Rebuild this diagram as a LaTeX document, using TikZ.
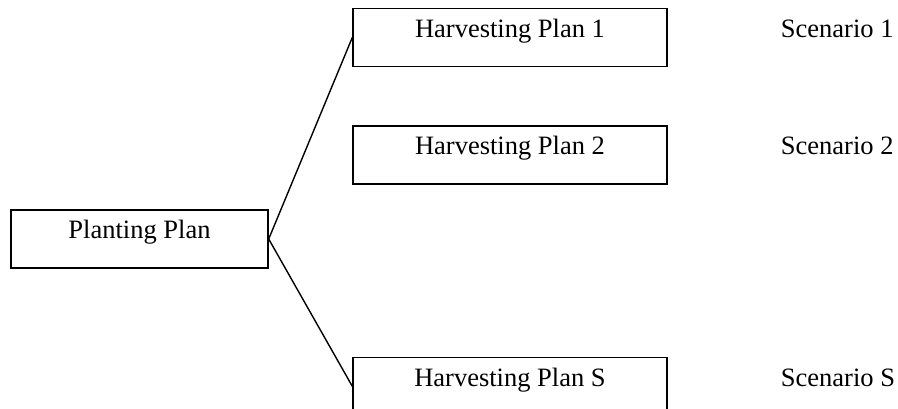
\documentclass[tikz,border=0pt]{standalone}
\usepackage{fontspec}
\setmainfont{Liberation Serif}
\usetikzlibrary{positioning}

\begin{document}
\begin{tikzpicture}[
                x=1pt, y=-1pt,
                planbox/.style={rectangle, draw=black, line width=1.4pt, inner xsep=0pt, inner ysep=0pt, text height=29pt, text depth=29pt, align=center, font=\fontsize{26.5}{30}\selectfont},
                scenlabel/.style={inner sep=0pt, text height=29pt, text depth=29pt, font=\fontsize{26.5}{30}\selectfont},
                link/.style={line width=1.4pt, black}
            ]
                \useasboundingbox (0,0) rectangle (898,409);

                \node[planbox, minimum width=257pt] (plant) at (139.5,239) {Planting Plan};

                \node[planbox, minimum width=314pt] (h1) at (510,37.5) {Harvesting Plan 1};
                \node[planbox, minimum width=314pt, below=58pt of h1] (h2) {Harvesting Plan 2};
                \node[planbox, minimum width=314pt, below=172pt of h2] (hS) {Harvesting Plan S};

                \node[scenlabel, right=113pt of h1] (s1) {Scenario 1};
                \node[scenlabel, right=113pt of h2] (s2) {Scenario 2};
                \node[scenlabel, right=113pt of hS] (sS) {Scenario S};

                \draw[link] (plant.east) -- (h1.west);
                \draw[link] (plant.east) -- (hS.west);
            \end{tikzpicture}
\end{document}
